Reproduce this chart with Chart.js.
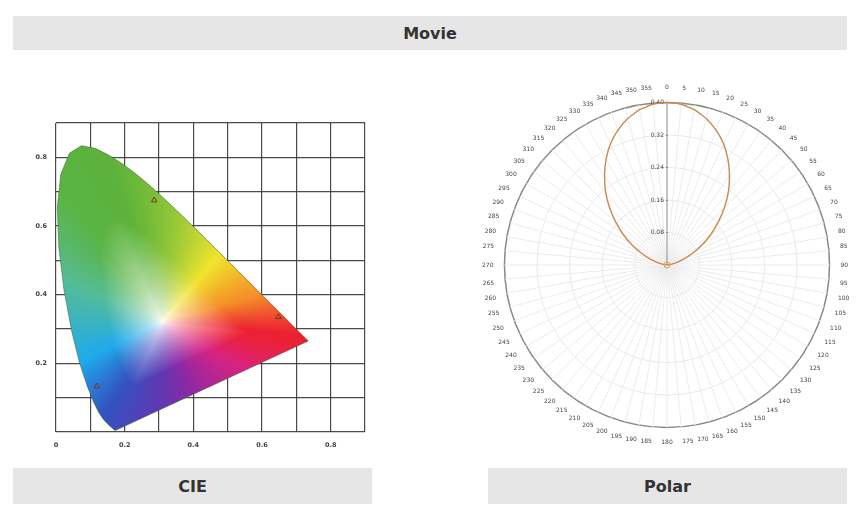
<!DOCTYPE html>
<html>
<head>
<meta charset="utf-8">
<script src="https://cdn.jsdelivr.net/npm/chart.js@4.4.1/dist/chart.umd.min.js"></script>
<style>
  html, body { margin: 0; padding: 0; background: #ffffff; }
  body { width: 860px; height: 515px; position: relative; overflow: hidden; font-family: "DejaVu Sans", sans-serif; }
  .bar { position: absolute; background: #e6e6e6; color: #333; font-weight: bold; font-size: 16px;
         display: flex; align-items: center; justify-content: center; }
  canvas { position: absolute; }
</style>
</head>
<body>
<div class="bar" style="left:13px; top:16px; width:834px; height:34px;">Movie</div>
<div class="bar" style="left:13px; top:468px; width:359px; height:36px;">CIE</div>
<div class="bar" style="left:488px; top:468px; width:359px; height:36px;">Polar</div>
<canvas id="cie" width="354" height="345" style="left:20px; top:110px;"></canvas>
<canvas id="polar" width="370" height="370" style="left:481px; top:80px;"></canvas>
<script>
// ---------- CIE data ----------
const locusX = [0.1741,0.1733,0.1714,0.1689,0.1644,0.1566,0.1440,0.1355,0.1241,0.1096,0.0913,0.0687,0.0454,0.0235,0.0082,0.0039,0.0139,0.0389,0.0743,0.1142,0.1547,0.1929,0.2296,0.2658,0.3016,0.3373,0.3731,0.4087,0.4441,0.4788,0.5125,0.5448,0.5752,0.6029,0.6270,0.6658,0.6915,0.7079,0.7190,0.7260,0.7300,0.7334,0.7347];
const locusY = [0.0050,0.0048,0.0051,0.0069,0.0109,0.0177,0.0297,0.0399,0.0578,0.0868,0.1327,0.2007,0.2950,0.4127,0.5384,0.6548,0.7502,0.8120,0.8338,0.8262,0.8059,0.7816,0.7543,0.7243,0.6923,0.6589,0.6245,0.5896,0.5547,0.5202,0.4866,0.4544,0.4242,0.3965,0.3725,0.3340,0.3083,0.2920,0.2809,0.2740,0.2700,0.2666,0.2653];
const markerX = [0.286, 0.648, 0.119];
const markerY = [0.675, 0.335, 0.133];
const cieTickLabels = ['0', '0.2', '0.4', '0.6', '0.8'];

// ---------- Polar data ----------
const angleLabels = ['0','5','10','15','20','25','30','35','40','45','50','55','60','65','70','75','80','85','90','95','100','105','110','115','120','125','130','135','140','145','150','155','160','165','170','175','180','185','190','195','200','205','210','215','220','225','230','235','240','245','250','255','260','265','270','275','280','285','290','295','300','305','310','315','320','325','330','335','340','345','350','355'];
const lobeValues = [0.400,0.397,0.388,0.373,0.353,0.329,0.300,0.268,0.235,0.200,0.165,0.132,0.100,0.071,0.047,0.027,0.012,0.003,
                    0,0,0,0,0,0,0,0,0,0,0,0,0,0,0,0,0,0,0,0,0,0,0,0,0,0,0,0,0,0,0,0,0,0,0,0,0,
                    0.003,0.012,0.027,0.047,0.071,0.100,0.132,0.165,0.200,0.235,0.268,0.300,0.329,0.353,0.373,0.388,0.397];
const radialMax = 0.4;
const radialStep = 0.08;

// ---------- style for gamut colouring ----------
const WHITE_PT = [0.31, 0.32];
const HUE_STOPS = [ // [angle deg around white point, r, g, b]
  [-92, 95, 55, 178], [-68, 140, 40, 165], [-30, 215, 35, 130], [-10, 236, 32, 55], [-5, 236, 32, 50],
  [15, 245, 140, 40], [50, 240, 228, 45], [83, 150, 200, 55], [108, 92, 178, 58], [128, 90, 180, 70],
  [156, 85, 188, 150], [206, 30, 170, 235], [238, 52, 82, 192], [268, 95, 55, 178]
];
function hueColor(deg) {
  while (deg < -92) deg += 360;
  while (deg >= 268) deg -= 360;
  for (let i = 0; i < HUE_STOPS.length - 1; i++) {
    const a = HUE_STOPS[i], b = HUE_STOPS[i + 1];
    if (deg >= a[0] && deg <= b[0]) {
      const t = (deg - a[0]) / (b[0] - a[0]);
      return [a[1] + (b[1] - a[1]) * t, a[2] + (b[2] - a[2]) * t, a[3] + (b[3] - a[3]) * t];
    }
  }
  return HUE_STOPS[0].slice(1);
}

const gamutFill = {
  id: 'gamutFill',
  beforeDatasetsDraw(chart) {
    const meta = chart.getDatasetMeta(0);
    const pts = meta.data;
    if (!pts.length) return;
    const { ctx, chartArea: a, scales } = chart;
    const sx = scales.x, sy = scales.y;
    const poly = pts.map(p => [sx.getValueForPixel(p.x), sy.getValueForPixel(p.y)]);
    const N = 720, bound = new Float32Array(N);
    for (let k = 0; k < N; k++) {
      const ang = k / N * 2 * Math.PI, dx = Math.cos(ang), dy = Math.sin(ang);
      let best = 1;
      for (let i = 0; i < poly.length; i++) {
        const p = poly[i], q = poly[(i + 1) % poly.length];
        const ex = q[0] - p[0], ey = q[1] - p[1];
        const den = dx * ey - dy * ex;
        if (Math.abs(den) < 1e-12) continue;
        const wx = p[0] - WHITE_PT[0], wy = p[1] - WHITE_PT[1];
        const t = (wx * ey - wy * ex) / den;
        const u = (wx * dy - wy * dx) / den;
        if (t > 0 && u >= 0 && u <= 1 && t < best) best = t;
      }
      bound[k] = best;
    }
    const w = Math.ceil(a.right - a.left), h = Math.ceil(a.bottom - a.top);
    const off = document.createElement('canvas');
    off.width = w; off.height = h;
    const octx = off.getContext('2d');
    const img = octx.createImageData(w, h);
    for (let py = 0; py < h; py++) {
      const cy = sy.getValueForPixel(a.top + py + 0.5);
      for (let px = 0; px < w; px++) {
        const cx = sx.getValueForPixel(a.left + px + 0.5);
        const dx = cx - WHITE_PT[0], dy = cy - WHITE_PT[1];
        const d = Math.hypot(dx, dy);
        const ang = Math.atan2(dy, dx);
        const k = Math.round((ang < 0 ? ang + 2 * Math.PI : ang) / (2 * Math.PI) * N) % N;
        const t = Math.min(1, d / bound[k]);
        const s = Math.pow(Math.min(1, t * 1.7), 0.7);
        const c = hueColor(ang * 180 / Math.PI);
        const o = (py * w + px) * 4;
        img.data[o] = 255 + (c[0] - 255) * s;
        img.data[o + 1] = 255 + (c[1] - 255) * s;
        img.data[o + 2] = 255 + (c[2] - 255) * s;
        img.data[o + 3] = 255;
      }
    }
    octx.putImageData(img, 0, 0);
    ctx.save();
    ctx.beginPath();
    pts.forEach((p, i) => i ? ctx.lineTo(p.x, p.y) : ctx.moveTo(p.x, p.y));
    ctx.closePath();
    ctx.clip();
    ctx.drawImage(off, a.left, a.top);
    ctx.restore();
  }
};

const tickFont = { family: 'DejaVu Sans', size: 6.5, weight: 'bold' };
function cieLabel(v) {
  const k = Math.round(v * 10);
  if (k % 2 !== 0 || k > 8) return '';
  return cieTickLabels[k / 2];
}
const locusPts = locusX.map((x, i) => ({ x, y: locusY[i] }));
locusPts.push({ x: locusX[0], y: locusY[0] });

new Chart(document.getElementById('cie'), {
  type: 'scatter',
  data: {
    datasets: [
      { data: locusPts, showLine: true, borderColor: 'rgba(60,100,45,0.6)', borderWidth: 0.9, pointRadius: 0, fill: false },
      { data: markerX.map((x, i) => ({ x, y: markerY[i] })), pointStyle: 'triangle', pointRadius: 3.2,
        borderColor: '#7a3325', backgroundColor: 'rgba(0,0,0,0)', borderWidth: 1 }
    ]
  },
  options: {
    animation: false, responsive: false, maintainAspectRatio: false,
    plugins: { legend: { display: false }, tooltip: { enabled: false } },
    layout: { padding: { top: 13, right: 3 } },
    scales: {
      x: {
        type: 'linear', min: 0, max: 0.9, z: 1,
        afterFit: s => { s.height = 23; },
        ticks: { stepSize: 0.1, autoSkip: false, maxRotation: 0, padding: 9, font: tickFont, color: '#444', callback: v => cieLabel(v) },
        grid: { color: 'rgba(55,55,55,0.9)', lineWidth: 1.2, drawTicks: false },
        border: { display: false }
      },
      y: {
        type: 'linear', min: 0, max: 0.9, z: 1,
        afterFit: s => { s.width = 36; },
        ticks: { stepSize: 0.1, autoSkip: false, padding: 9, font: tickFont, color: '#444', callback: v => (Math.round(v * 10) === 0 ? '' : cieLabel(v)) },
        grid: { color: 'rgba(55,55,55,0.9)', lineWidth: 1.2, drawTicks: false },
        border: { display: false }
      }
    }
  },
  plugins: [gamutFill]
});

// ---------- Polar ----------
new Chart(document.getElementById('polar'), {
  type: 'radar',
  data: {
    labels: angleLabels,
    datasets: [{
      data: lobeValues, borderColor: '#c98a4e', borderWidth: 1.4, fill: false, tension: 0.15,
      pointRadius: ctx => (ctx.dataIndex === 36 ? 3 : 0),
      pointBorderColor: '#d9a24e', pointBackgroundColor: 'rgba(255,255,255,0)', pointBorderWidth: 1
    }]
  },
  options: {
    animation: false, responsive: false, maintainAspectRatio: false,
    plugins: { legend: { display: false }, tooltip: { enabled: false } },
    scales: {
      r: {
        min: 0, max: radialMax,
        ticks: {
          stepSize: radialStep, showLabelBackdrop: false, color: '#444',
          font: { family: 'DejaVu Sans', size: 6 },
          callback: v => v.toFixed(2) + ' -\u2007\u2007\u2007\u2007'
        },
        grid: {
          circular: true,
          color: ctx => (ctx.index === 5 ? '#8a8a80' : '#e9e9e9'),
          lineWidth: ctx => (ctx.index === 5 ? 1.5 : 1)
        },
        angleLines: {
          color: ctx => (ctx.index === 0 ? '#888' : '#ececec'),
          lineWidth: 1
        },
        pointLabels: { font: { family: 'DejaVu Sans', size: 6 }, color: '#444', padding: 6 }
      }
    }
  }
});
</script>
</body>
</html>
